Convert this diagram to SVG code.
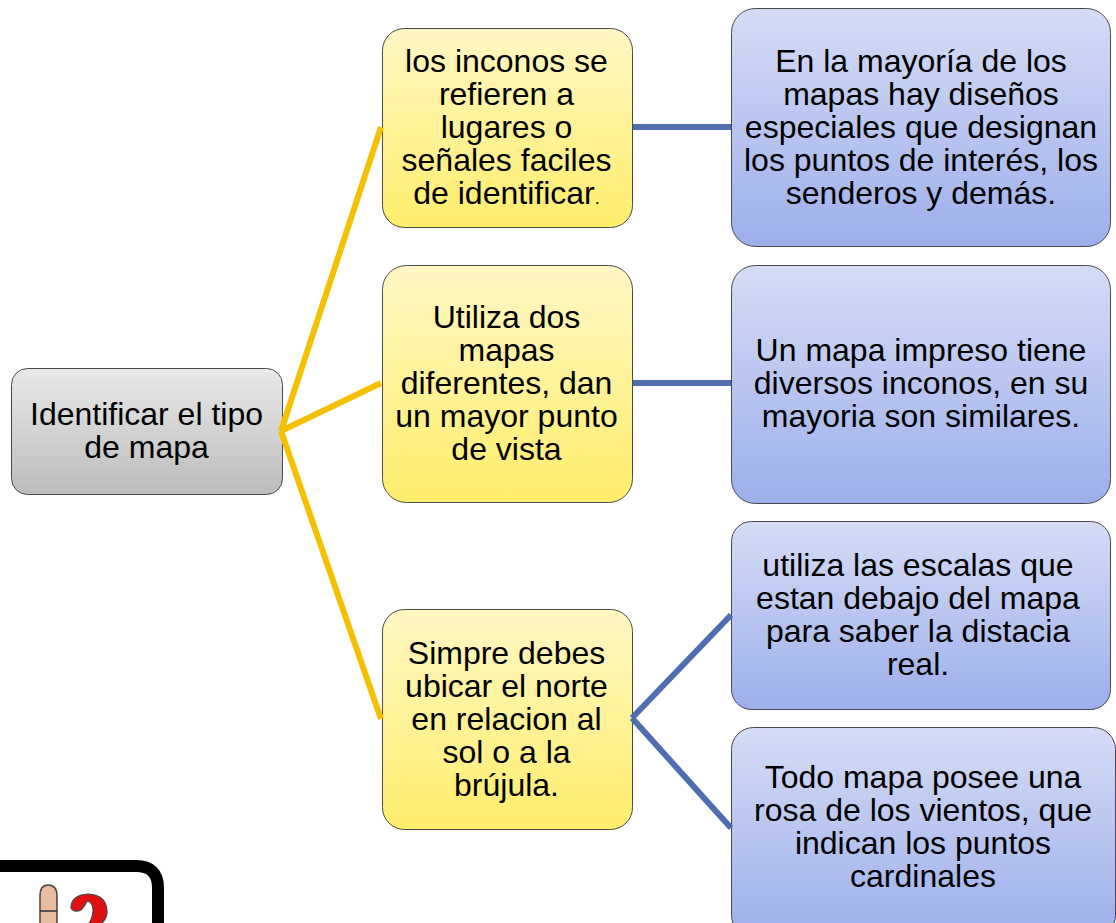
<svg xmlns="http://www.w3.org/2000/svg" width="1116" height="923" viewBox="0 0 1116 923">
<style>
.n{stroke:#4a4a4a;stroke-width:1}
.t{font-family:"Liberation Sans",Arial,sans-serif;font-size:32px;fill:#000;text-anchor:middle}
.y{fill:url(#gy)}.b{fill:url(#gb)}.g{fill:url(#gg)}
.cy{stroke:#f4c000;stroke-width:6;fill:none}
.cb{stroke:#4f6db0;stroke-width:6;fill:none}
</style>
<defs>
<linearGradient id="gy" x1="0" y1="0" x2="0" y2="1"><stop offset="0" stop-color="#fef7c4"/><stop offset="1" stop-color="#ffee6c"/></linearGradient>
<linearGradient id="gb" x1="0" y1="0" x2="0" y2="1"><stop offset="0" stop-color="#d6dcf6"/><stop offset="1" stop-color="#9dafea"/></linearGradient>
<linearGradient id="gg" x1="0" y1="0" x2="0" y2="1"><stop offset="0" stop-color="#e9e9e9"/><stop offset="1" stop-color="#bcbcbc"/></linearGradient>
</defs>
<rect width="1116" height="923" fill="#fff"/>
<g id="n0"><rect class="n g" x="11.500" y="368.500" width="271" height="126" rx="16"/>
<text class="t" x="146.500" y="425">Identificar el tipo</text><text class="t" x="146.500" y="458">de mapa</text></g>
<g id="n1"><rect class="n y" x="382.500" y="28.500" width="250" height="199" rx="22"/>
<text class="t" x="506.500" y="72">los inconos se</text><text class="t" x="506.500" y="105">refieren a</text><text class="t" x="506.500" y="138">lugares o</text><text class="t" x="506.500" y="171">señales faciles</text><text class="t" x="506.500" y="204">de identificar<tspan font-size="18">.</tspan></text></g>
<g id="n2"><rect class="n y" x="382.500" y="265.500" width="250" height="237" rx="24"/>
<text class="t" x="506.500" y="328">Utiliza dos</text><text class="t" x="506.500" y="361">mapas</text><text class="t" x="506.500" y="394">diferentes, dan</text><text class="t" x="506.500" y="427">un mayor punto</text><text class="t" x="506.500" y="460">de vista</text></g>
<g id="n3"><rect class="n y" x="382.500" y="609.500" width="250" height="220" rx="22"/>
<text class="t" x="506.500" y="664">Simpre debes</text><text class="t" x="506.500" y="697">ubicar el norte</text><text class="t" x="506.500" y="730">en relacion al</text><text class="t" x="506.500" y="763">sol o a la</text><text class="t" x="506.500" y="796">brújula.</text></g>
<g id="n4"><rect class="n b" x="731.500" y="8.500" width="379" height="238" rx="24"/>
<text class="t" x="921" y="72">En la mayoría de los</text><text class="t" x="921" y="105">mapas hay diseños</text><text class="t" x="921" y="138">especiales que designan</text><text class="t" x="921" y="171">los puntos de interés, los</text><text class="t" x="921" y="204">senderos y demás.</text></g>
<g id="n5"><rect class="n b" x="731.500" y="265.500" width="379" height="238" rx="24"/>
<text class="t" x="921" y="361">Un mapa impreso tiene</text><text class="t" x="921" y="394">diversos inconos, en su</text><text class="t" x="921" y="427">mayoria son similares.</text></g>
<g id="n6"><rect class="n b" x="731.500" y="521.500" width="379" height="188" rx="20"/>
<text class="t" x="918" y="576">utiliza las escalas que</text><text class="t" x="918" y="609">estan debajo del mapa</text><text class="t" x="918" y="642">para saber la distacia</text><text class="t" x="918" y="675">real.</text></g>
<g id="n7"><rect class="n b" x="731.500" y="727.500" width="384" height="210" rx="22"/>
<text class="t" x="923" y="788">Todo mapa posee una</text><text class="t" x="923" y="821">rosa de los vientos, que</text><text class="t" x="923" y="854">indican los puntos</text><text class="t" x="923" y="887">cardinales</text></g>
<g id="connectors">
<path class="cy" d="M281 431L381 127M281 431L381 383M281 431L381 719"/>
<path class="cb" d="M633 127H731M633 383H731M632 718L731 615M632 718L731 828"/>
</g>
<g id="icon">
<path d="M-5 866H136Q158 866 158 888V930" fill="#fff" stroke="#000" stroke-width="12"/>
<path d="M40 930V896Q40 885 48 885Q57 885 57 896V930" fill="#e8bda0" stroke="#444" stroke-width="1.500"/>
<path d="M40 911H57" stroke="#333" stroke-width="1.500"/>
<path d="M71 908Q71 895 88 894Q107 895 107 912Q107 920 99 925H88Q93 918 93 910Q93 902 87 901Q85 906 81 910Q74 913 71 908Z" fill="#e01010" stroke="#444" stroke-width="1.200"/>
</g>
</svg>
